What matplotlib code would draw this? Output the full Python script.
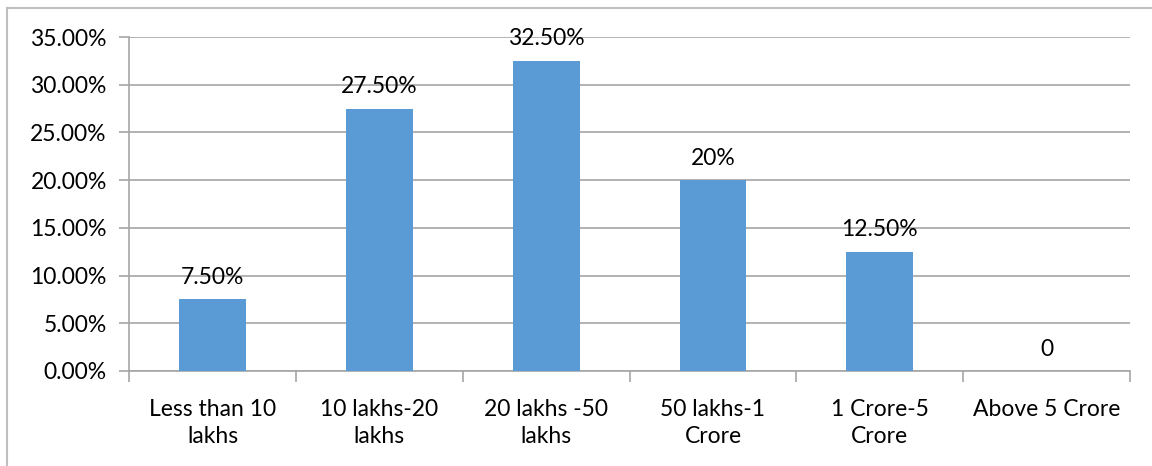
import matplotlib
matplotlib.use('Agg')
import matplotlib.pyplot as plt
from matplotlib.lines import Line2D
import numpy as np

# faixas de faturamento e percentuais
categorias = ["Less than 10\nlakhs", "10 lakhs-20\nlakhs", "20 lakhs -50\nlakhs",
              "50 lakhs-1\nCrore", "1 Crore-5\nCrore", "Above 5 Crore"]
valores = [7.5, 27.5, 32.5, 20.0, 12.5, 0.0]
rotulos = ["7.50%", "27.50%", "32.50%", "20%", "12.50%", "0"]
yticks = [0, 5, 10, 15, 20, 25, 30, 35]
ytick_labels = ["0.00%", "5.00%", "10.00%", "15.00%", "20.00%", "25.00%", "30.00%", "35.00%"]

AZUL = '#5B9BD5'
CINZA = '#A6A6A6'
FS = 16.5

plt.rcParams['font.family'] = ['Lato', 'DejaVu Sans']

fig = plt.figure(figsize=(11.52, 4.66), dpi=100)
ax = fig.add_axes([0.112, 0.2039, 0.869, 0.7167])

x = np.arange(len(categorias))
ax.bar(x, valores, width=0.4, color=AZUL, zorder=3)

for xi, v, r in zip(x, valores, rotulos):
    ax.text(xi, v + 1.2, r, ha='center', va='bottom', fontsize=FS, color='black', zorder=4)

ax.set_xlim(-0.5, len(categorias) - 0.5)
ax.set_ylim(0, 35)
ax.set_yticks(yticks)
ax.set_yticklabels(ytick_labels, fontsize=FS)
ax.set_xticks(x)
ax.set_xticklabels(categorias, fontsize=FS, linespacing=1.35)
ax.tick_params(axis='x', length=0, pad=20)
ax.tick_params(axis='y', length=7, width=1.2, color=CINZA, pad=9)

# marcas entre categorias no eixo x
ax.set_xticks(np.arange(-0.5, len(categorias)), minor=True)
ax.tick_params(axis='x', which='minor', length=8, width=1.2, color=CINZA)

ax.grid(axis='y', color=CINZA, linewidth=1.2, zorder=0)
for lado in ['top', 'right']:
    ax.spines[lado].set_visible(False)
ax.spines['left'].set_color(CINZA)
ax.spines['bottom'].set_color(CINZA)
ax.spines['left'].set_linewidth(1.2)
ax.spines['bottom'].set_linewidth(1.2)

# moldura externa do gráfico
fig.add_artist(Line2D([6.5 / 1152, 1], [1 - 7.5 / 466, 1 - 7.5 / 466], color='#BFBFBF', linewidth=1.5))
fig.add_artist(Line2D([6.5 / 1152, 6.5 / 1152], [0, 1 - 7.5 / 466], color='#BFBFBF', linewidth=1.5))

fig.savefig('out.png', dpi=100, facecolor='white')
